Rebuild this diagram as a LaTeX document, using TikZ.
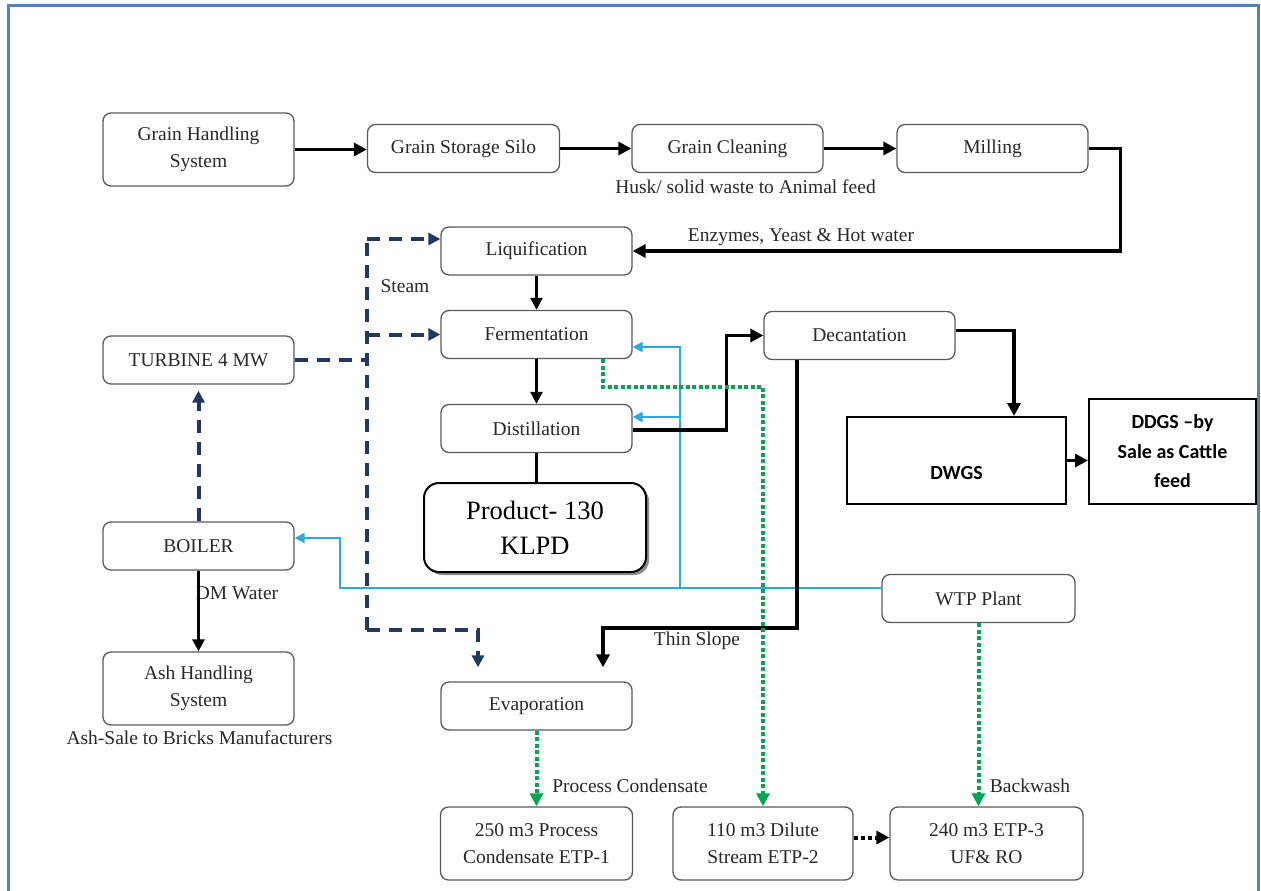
\documentclass[tikz,border=0pt]{standalone}
\usepackage{fontspec}
\setmainfont{Liberation Serif}
\newfontfamily\calfont{Carlito}
\usetikzlibrary{arrows.meta,shadows,calc}
\definecolor{frame}{RGB}{79,129,189}
\definecolor{navy}{RGB}{31,56,100}
\definecolor{cyanl}{RGB}{41,171,226}
\definecolor{grn}{RGB}{0,166,80}
\definecolor{txt}{RGB}{40,40,40}
\definecolor{boxline}{RGB}{90,90,90}
\begin{document}
\begin{tikzpicture}[x=1pt,y=-1pt,
 box/.style={draw=boxline, line width=1.3pt, rounded corners=8pt, fill=white, inner sep=0pt, align=center, text=txt, font=\fontsize{19.5}{27}\selectfont, minimum width=191pt, minimum height=48pt},
 prodbox/.style={draw=black, line width=2pt, rounded corners=15pt, fill=white, inner sep=0pt, align=center, font=\fontsize{26.5}{35}\selectfont, minimum width=222pt, minimum height=89pt, drop shadow={shadow xshift=3pt, shadow yshift=-3pt, fill=black!45, opacity=1}},
 sq/.style={draw=black, line width=2pt, fill=white, inner sep=0pt, align=center, font=\calfont\bfseries\fontsize{20}{29.5}\selectfont},
 sqtext/.style={inner sep=0pt, font=\calfont\bfseries\fontsize{20}{29.5}\selectfont},
 lbl/.style={inner sep=0pt, text=txt, font=\fontsize{19.5}{24}\selectfont},
 arr/.style={line width=3.5pt, line join=miter, -{Triangle[length=13pt,width=13pt]}},
 arrthin/.style={line width=2.5pt, -{Triangle[length=12pt,width=12pt]}},
 steam/.style={navy, line width=4pt, dash pattern=on 13pt off 9pt},
 steamarr/.style={steam, -{Triangle[length=12pt,width=12pt]}},
 gdot/.style={grn, line width=4pt, dash pattern=on 4pt off 2.5pt, -{Triangle[length=13pt,width=13pt]}},
 kdot/.style={black, line width=4pt, dash pattern=on 4pt off 3pt, -{Triangle[length=13pt,width=13pt]}},
 cyarr/.style={cyanl, line width=2.2pt, -{Triangle[length=10pt,width=10pt]}}
]
\fill[white] (0,0) rectangle (1261,891);
\useasboundingbox (0,0) rectangle (1261,891);
\draw[frame, line width=3pt] (8,900) -- (8,6) -- (1258,6) -- (1258,900);

% nodes
\node[box, minimum height=73pt] (gh) at (198.5,149.5) {Grain Handling\\System};
\node[box, minimum width=192pt] (silo) at (463.5,148.5) {Grain Storage Silo};
\node[box] (clean) at (727.5,148.5) {Grain Cleaning};
\node[box] (mill) at (992.5,148.5) {Milling};
\node[box] (liq) at (536.5,251) {Liquification};
\node[box] (ferm) at (536.5,334.5) {Fermentation};
\node[box] (dist) at (536.5,428.5) {Distillation};
\node[prodbox] (prod) at (535,527.5) {Product- 130\\KLPD};
\node[box] (dec) at (859.5,335.5) {Decantation};
\node[sq, minimum width=219pt, minimum height=87pt] (dwgs) at (956.5,460.5) {};
\node[sqtext] (dwgst) at (956.5,473) {DWGS};
\node[sq, minimum width=167pt, minimum height=105pt] (ddgs) at (1172.5,451.5) {DDGS –by\\Sale as Cattle\\feed};
\node[box] (turb) at (198.5,360) {TURBINE 4 MW};
\node[box] (boil) at (198.5,546) {BOILER};
\node[box, minimum height=73pt] (ash) at (198.5,688.5) {Ash Handling\\System};
\node[box] (evap) at (536.5,706) {Evaporation};
\node[box, minimum width=192pt, minimum height=73pt] (etp1) at (536.5,843.5) {250 m3 Process\\Condensate ETP-1};
\node[box, minimum width=180pt, minimum height=73pt] (etp2) at (763,843.5) {110 m3 Dilute\\Stream ETP-2};
\node[box, minimum width=193pt, minimum height=73pt] (etp3) at (986.5,843.5) {240 m3 ETP-3\\UF\& RO};
\node[box, minimum width=193pt] (wtp) at (978.5,598.5) {WTP Plant};

% labels
\node[lbl] (lhusk) at (745.5,187) {Husk/ solid waste to Animal feed};
\node[lbl] (lenz) at (801,237) {Enzymes, Yeast \& Hot water};
\node[lbl] (lsteam) at (405,286) {Steam};
\node[lbl] (ldm) at (237,593) {DM Water};
\node[lbl] (lash) at (199.5,738) {Ash-Sale to Bricks Manufacturers};
\node[lbl] (lthin) at (697,641) {Thin Slope};
\node[lbl] (lproc) at (630,786) {Process Condensate};
\node[lbl] (lback) at (1030,786) {Backwash};

% coordinates
\coordinate (sTop) at (367,239);
\coordinate (sBot) at (367,630);
\coordinate (sEv) at (478,630);
\coordinate (ts) at (603,628);
\coordinate (g1) at (603,387);
\coordinate (c1) at (340,588);
\coordinate (c2) at (680,588);
\coordinate (dcy) at ([yshift=11.5pt]dist.east);

% cyan water lines
\draw[cyarr] ([yshift=10.5pt]wtp.west) -- (c1) |- ([yshift=8pt]boil.east);
\draw[cyarr] (c2) |- ([yshift=-12.5pt]ferm.east);
\draw[cyarr] (dcy -| c2) -- (dcy);

% black process arrows
\draw[arr] (gh.east) -- (gh.east -| silo.west);
\draw[arr] (silo.east) -- (clean.west);
\draw[arr] (clean.east) -- (mill.west);
\draw[arr] (mill.east) -- ++(32,0) |- (liq.east);
\draw[arrthin] (liq.south) -- (ferm.north);
\draw[arrthin] (ferm.south) -- (dist.north);
\draw[line width=2.5pt] (dist.south) -- (dist.south |- prod.north);
\draw[arr] ([yshift=-1.5pt]dist.east) -- ++(94,0) |- (dec.west);
\draw[arr] ([yshift=5pt]dec.east) -| ([xshift=57.5pt]dwgs.north);
\draw[arr, shorten >=14pt] ([xshift=-62.5pt]dec.south) |- (ts) -- (ts |- evap.north);
\draw[arr] (dwgs.east) -- (dwgs.east -| ddgs.west);
\draw[arrthin] (boil.south) -- (ash.north);

% steam
\draw[steam] (sBot) -- (sTop);
\draw[steamarr] (sTop) -- (sTop -| liq.west);
\draw[steamarr] (sTop |- ferm.west) -- (ferm.west);
\draw[steam] (turb.east) -- (turb.east -| sTop);
\draw[steamarr, shorten >=14pt] (sBot) -- (sEv) -- (sEv |- evap.north);
\draw[steamarr, shorten >=6pt] (boil.north) -- (turb.south);

% effluent lines
\draw[gdot] ([xshift=66.5pt]ferm.south) -- (g1) -| (etp2.north);
\draw[gdot] (evap.south) -- (etp1.north);
\draw[gdot] (wtp.south) -- (wtp.south |- etp3.north);
\draw[kdot] ([yshift=6pt]etp2.east) -- ([yshift=6pt]etp3.west);
\end{tikzpicture}
\end{document}
